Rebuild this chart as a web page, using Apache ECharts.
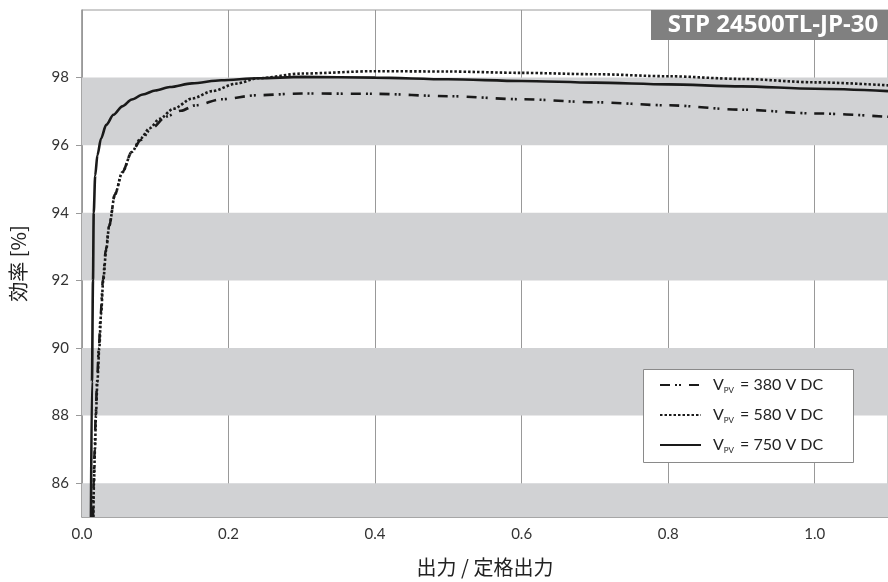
<!DOCTYPE html>
<html><head><meta charset="utf-8">
<script src="https://cdn.jsdelivr.net/npm/echarts@6/dist/echarts.min.js"></script>
<style>html,body{margin:0;padding:0;background:#fff}#c{width:888px;height:582px}</style>
</head><body><div id="c"></div>
<script>
// ---- data ----
const load750 = [0.0122,0.0136,0.0150,0.0160,0.0180,0.021,0.026,0.033,0.043,0.055,0.068,0.083,0.10,0.12,0.15,0.19,0.24,0.30,0.40,0.50,0.60,0.70,0.80,0.90,1.0,1.1];
const eff750  = [85.0,89.0,92.0,94.0,95.1,95.7,96.2,96.6,96.9,97.15,97.35,97.5,97.62,97.72,97.83,97.92,97.98,98.02,98.0,97.95,97.9,97.85,97.8,97.74,97.67,97.6];
const load580 = [0.0155,0.0163,0.0177,0.019,0.021,0.0236,0.026,0.029,0.033,0.037,0.045,0.055,0.068,0.08,0.092,0.106,0.125,0.15,0.178,0.21,0.24,0.30,0.40,0.50,0.60,0.70,0.80,0.90,1.0,1.1];
const eff580  = [85.0,86.0,87.0,88.0,89.0,90.0,91.0,92.0,92.9,93.6,94.55,95.2,95.8,96.2,96.5,96.78,97.08,97.38,97.6,97.82,97.98,98.12,98.19,98.18,98.14,98.1,98.04,97.96,97.86,97.77];
const load380 = [0.0150,0.0160,0.0173,0.0187,0.0205,0.023,0.0255,0.0285,0.0325,0.037,0.045,0.055,0.068,0.08,0.095,0.115,0.135,0.155,0.19,0.24,0.30,0.40,0.50,0.60,0.70,0.80,0.90,1.0,1.1];
const eff380  = [85.0,86.0,87.0,88.0,89.0,90.0,91.0,92.0,92.9,93.6,94.55,95.2,95.8,96.15,96.5,96.85,97.02,97.18,97.36,97.48,97.53,97.52,97.45,97.36,97.27,97.18,97.05,96.94,96.84];
const seriesNames = ['V{s|PV} = 380 V DC','V{s|PV} = 580 V DC','V{s|PV} = 750 V DC'];
const yTickValues = [86,88,90,92,94,96,98];
const grayBands = [[85,86],[88,90],[92,94],[96,98]];
const titleText = 'STP 24500TL-JP-30';
const xName = '出力 / 定格出力';
const yName = '効率 [%]';

const pair = (xs, ys) => xs.map((x, i) => [x, ys[i]]);
const NUMFONT = 'Lato, "Noto Sans", sans-serif';
const JPFONT = '"Noto Sans CJK JP", sans-serif';

const chart = echarts.init(document.getElementById('c'), null, {renderer: 'canvas'});
const lineBase = {type: 'line', showSymbol: false, symbol: 'none', smooth: 0.3, smoothMonotone: 'x', z: 3};
chart.setOption({
  animation: false,
  grid: {left: 82, top: 10, width: 808.5, height: 508, show: true, borderColor: '#9a9a9a', borderWidth: 1, containLabel: false},
  xAxis: {
    type: 'value', min: 0, max: 1.1, interval: 0.2,
    name: xName, nameLocation: 'middle', nameGap: 40,
    nameTextStyle: {fontFamily: JPFONT, fontSize: 20, color: '#222'},
    axisLine: {show: true, lineStyle: {color: '#9a9a9a', width: 1.5}},
    axisTick: {show: false},
    axisLabel: {color: '#333', fontFamily: NUMFONT, fontSize: 15, margin: 10, showMaxLabel: false,
      formatter: v => v.toFixed(1)},
    splitLine: {show: true, lineStyle: {color: '#999', width: 1}}
  },
  yAxis: {
    type: 'value', min: 85, max: 100,
    name: yName, nameLocation: 'middle', nameGap: 54, nameRotate: 90,
    nameTextStyle: {fontFamily: JPFONT, fontSize: 20, color: '#222'},
    axisLine: {show: true, lineStyle: {color: '#9a9a9a', width: 1.5}},
    axisTick: {show: true, length: 6, customValues: yTickValues, lineStyle: {color: '#9a9a9a'}},
    axisLabel: {color: '#333', fontFamily: NUMFONT, fontSize: 15, margin: 13, customValues: yTickValues},
    splitLine: {show: false}
  },
  legend: {
    orient: 'vertical', left: 659, top: 377, itemWidth: 41, itemHeight: 14, itemGap: 13,
    padding: 0, z: 10,
    data: seriesNames,
    itemStyle: {opacity: 0},
    textStyle: {fontFamily: NUMFONT, fontSize: 16, color: '#222', padding: [0, 0, 0, 7],
      rich: {s: {fontFamily: NUMFONT, fontSize: 8, color: '#222', verticalAlign: 'bottom', padding: [10, 2, 0, 0]}}}
  },
  graphic: [
    {type: 'rect', z: 8, shape: {x: 643.5, y: 369.5, width: 210, height: 93},
      style: {fill: '#fff', stroke: '#8a8a8a', lineWidth: 1}},
    {type: 'rect', z: 8, shape: {x: 651, y: 10, width: 240, height: 30}, style: {fill: '#808080'}},
    {type: 'text', z: 9, x: 773, y: 25,
      style: {text: titleText, fill: '#fff', font: 'bold 24px "Open Sans", sans-serif', textAlign: 'center', textVerticalAlign: 'middle'}}
  ],
  series: [
    Object.assign({}, lineBase, {name: seriesNames[0], data: pair(load380, eff380),
      lineStyle: {color: '#1a1a1a', width: 2.6, type: [10, 5, 2, 2, 2, 8]},
      itemStyle: {color: '#1a1a1a'},
      markArea: {silent: true, z: 1, itemStyle: {color: '#d1d2d4'},
        data: grayBands.map(b => [{yAxis: b[0]}, {yAxis: b[1]}])}}),
    Object.assign({}, lineBase, {name: seriesNames[1], data: pair(load580, eff580),
      lineStyle: {color: '#1a1a1a', width: 2.6, type: [2.5, 2]}, itemStyle: {color: '#1a1a1a'}}),
    Object.assign({}, lineBase, {name: seriesNames[2], data: pair(load750, eff750),
      lineStyle: {color: '#1a1a1a', width: 2.6, type: 'solid'}, itemStyle: {color: '#1a1a1a'}})
  ]
});
</script></body></html>
